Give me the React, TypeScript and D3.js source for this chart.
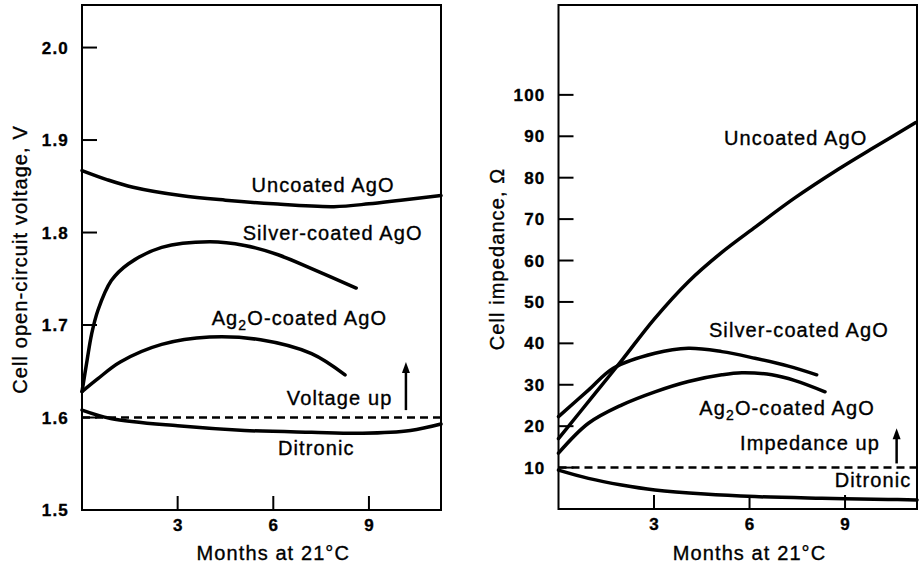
import React from "react";
import * as d3 from "d3";

type Pt = [number, number];

const FONT = "'Liberation Sans', Arial, Helvetica, sans-serif";

// shared x axis (months at 21°C)
const monthTicks = [3, 6, 9];
const monthMax = 11.26;

// left panel: open-circuit voltage
const voltageTicks = [1.5, 1.6, 1.7, 1.8, 1.9, 2.0];
const voltUncoated: Pt[] = [
  [0, 1.867], [0.8, 1.857], [1.6, 1.849], [3.1, 1.84], [4.5, 1.835], [6, 1.831],
  [7.9, 1.828], [9, 1.831], [10, 1.835], [11.26, 1.84],
];
const voltSilver: Pt[] = [
  [0, 1.628], [0.16, 1.662], [0.3, 1.69], [0.5, 1.716], [0.92, 1.748], [1.45, 1.766],
  [2.5, 1.784], [4, 1.79], [5.1, 1.786], [6.15, 1.776], [7.2, 1.761], [8.6, 1.74],
];
const voltAg2O: Pt[] = [
  [0, 1.628], [0.5, 1.642], [1.2, 1.66], [2.5, 1.679], [4, 1.687], [5.6, 1.684],
  [7.2, 1.669], [8.25, 1.646],
];
const voltDitronic: Pt[] = [
  [0, 1.608], [0.9, 1.599], [3, 1.591], [5.1, 1.586], [7.2, 1.584], [8.8, 1.583],
  [10.3, 1.586], [11.26, 1.593],
];
const voltReference = 1.6;

// right panel: impedance
const impedanceTicks = [10, 20, 30, 40, 50, 60, 70, 80, 90, 100];
const impUncoated: Pt[] = [
  [0, 17], [1.15, 27.9], [2, 36], [3, 45.8], [4.08, 54.9], [5.1, 61.8], [6.2, 68.2],
  [7.4, 75], [8.8, 82.1], [9.8, 86.8], [11.22, 93.3],
];
const impSilver: Pt[] = [
  [0, 22.3], [0.94, 28.7], [1.72, 34], [3.03, 37.6], [4.08, 38.8], [5.13, 38],
  [6.17, 36.4], [7.22, 34.5], [8.11, 32.4],
];
const impAg2O: Pt[] = [
  [0, 13.5], [0.94, 20.7], [1.98, 25.1], [3.03, 28.3], [4.08, 30.8], [5.13, 32.4],
  [5.76, 32.9], [6.7, 32.4], [7.43, 31], [8.37, 28.3],
];
const impDitronic: Pt[] = [
  [0, 9.4], [0.94, 7.4], [1.98, 5.8], [3.03, 4.6], [4.59, 3.6], [6.17, 3],
  [8.27, 2.6], [10.36, 2.3], [11.26, 2.2],
];
const impReference = 10;

interface Label {
  text: string;
  sub?: string; // subscript (Ag2O)
  rest?: string;
  m: number;
  v: number;
}

const voltLabels: Label[] = [
  { text: "Uncoated AgO", m: 7.56, v: 1.844 },
  { text: "Silver-coated AgO", m: 7.86, v: 1.7917 },
  { text: "Ag", sub: "2", rest: "O-coated AgO", m: 6.82, v: 1.6998 },
  { text: "Voltage up", m: 8.08, v: 1.6135 },
  { text: "Ditronic", m: 7.35, v: 1.5595 },
];
const impLabels: Label[] = [
  { text: "Uncoated AgO", m: 7.45, v: 87.9 },
  { text: "Silver-coated AgO", m: 7.55, v: 41.6 },
  { text: "Ag", sub: "2", rest: "O-coated AgO", m: 7.18, v: 22.7 },
  { text: "Impedance up", m: 7.9, v: 14.2 },
  { text: "Ditronic", m: 9.88, v: 5.4 },
];

// arrows: [month, from, to]
const voltArrow: [number, number, number] = [10.16, 1.608, 1.66];
const impArrow: [number, number, number] = [10.62, 11.0, 19.5];

interface PanelProps {
  xRange: [number, number];
  yRange: [number, number];
  yDomain: [number, number];
  yTicks: number[];
  yMarks: number[];
  fmt: (v: number) => string;
  series: Pt[][];
  reference: number;
  labels: Label[];
  arrow: [number, number, number];
  yTitle: string;
  titleX: number;
}

const Panel: React.FC<PanelProps> = (p) => {
  const x = d3.scaleLinear().domain([0, monthMax]).range(p.xRange);
  const y = d3.scaleLinear().domain(p.yDomain).range(p.yRange);
  const line = d3
    .line<Pt>()
    .x((d) => x(d[0]))
    .y((d) => y(d[1]))
    .curve(d3.curveCatmullRom.alpha(0.5));

  const [x0, x1] = p.xRange;
  const [yb, yt] = p.yRange;
  const textStyle = { fontFamily: FONT, fontSize: 20, letterSpacing: 1.1 };
  const ink = { stroke: "#000", strokeWidth: 0.35 };

  const [am, af, at] = p.arrow;
  const ax = x(am);
  const tipY = y(at);

  return (
    <g>
      <rect x={x0} y={yt} width={x1 - x0} height={yb - yt} fill="none" stroke="#000" strokeWidth={2} />
      {p.yMarks.map((t) => (
        <line key={"ym" + t} x1={x0} x2={x0 + 15} y1={y(t)} y2={y(t)} stroke="#000" strokeWidth={2} />
      ))}
      {p.yTicks.map((t) => (
        <text
          key={"yt" + t}
          x={x0 - 13}
          y={y(t)}
          dy="0.36em"
          textAnchor="end"
          {...ink}
          style={{ fontFamily: FONT, fontSize: 17, letterSpacing: 1.2, fontWeight: "bold" }}
        >
          {p.fmt(t)}
        </text>
      ))}
      {monthTicks.map((t) => (
        <g key={"xt" + t}>
          <line x1={x(t)} x2={x(t)} y1={yb} y2={yb - 14} stroke="#000" strokeWidth={2} />
          <text
            x={x(t)}
            y={yb + 21}
            textAnchor="middle"
            {...ink}
            style={{ fontFamily: FONT, fontSize: 17, fontWeight: "bold" }}
          >
            {t}
          </text>
        </g>
      ))}
      <text x={x(6)} y={560} textAnchor="middle" {...ink} style={textStyle}>
        Months at 21°C
      </text>
      <text
        transform={`translate(${p.titleX},${(yb + yt) / 2 + 2}) rotate(-90)`}
        textAnchor="middle"
        {...ink}
        style={textStyle}
      >
        {p.yTitle}
      </text>

      <line
        x1={x0}
        x2={x1}
        y1={y(p.reference)}
        y2={y(p.reference)}
        stroke="#000"
        strokeWidth={2.5}
        strokeDasharray="8,5"
      />
      {p.series.map((s, i) => (
        <path key={"s" + i} d={line(s) ?? ""} fill="none" stroke="#000" strokeWidth={3.5} strokeLinecap="round" />
      ))}

      <line x1={ax} x2={ax} y1={y(af)} y2={tipY + 8} stroke="#000" strokeWidth={2.5} />
      <path d={`M${ax},${tipY} L${ax - 4},${tipY + 11} L${ax + 4},${tipY + 11} Z`} fill="#000" />

      {p.labels.map((l, i) => (
        <text key={"l" + i} x={x(l.m)} y={y(l.v)} textAnchor="middle" {...ink} style={textStyle}>
          {l.text}
          {l.sub && (
            <tspan fontSize={14} dy={5}>
              {l.sub}
            </tspan>
          )}
          {l.rest && <tspan dy={l.sub ? -5 : 0}>{l.rest}</tspan>}
        </text>
      ))}
    </g>
  );
};

export default function App() {
  return (
    <div style={{ position: "absolute", left: 0, top: 0 }}>
      <svg width={923} height={565} style={{ display: "block", background: "#fff" }}>
        <Panel
          xRange={[82, 441]}
          yRange={[510, 5]}
          yDomain={[1.5, 2.046]}
          yTicks={voltageTicks}
          yMarks={voltageTicks.slice(1)}
          fmt={d3.format(".1f")}
          series={[voltUncoated, voltSilver, voltAg2O, voltDitronic]}
          reference={voltReference}
          labels={voltLabels}
          arrow={voltArrow}
          yTitle="Cell open-circuit voltage, V"
          titleX={27}
        />
        <Panel
          xRange={[558.5, 917]}
          yRange={[509, 5]}
          yDomain={[0, 121.7]}
          yTicks={impedanceTicks}
          yMarks={impedanceTicks}
          fmt={d3.format("d")}
          series={[impUncoated, impSilver, impAg2O, impDitronic]}
          reference={impReference}
          labels={impLabels}
          arrow={impArrow}
          yTitle="Cell impedance, Ω"
          titleX={504}
        />
      </svg>
    </div>
  );
}
